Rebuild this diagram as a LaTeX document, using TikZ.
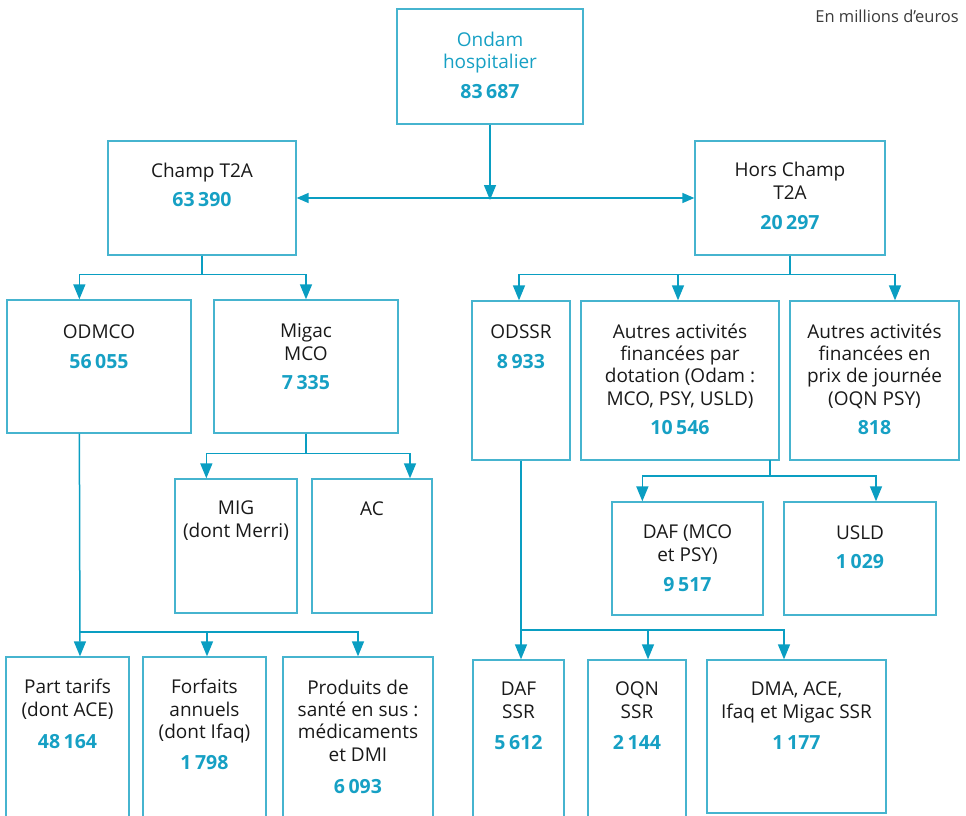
\documentclass[tikz,border=0pt]{standalone}
\usepackage{fontspec}
\setmainfont{Open Sans}
\usetikzlibrary{arrows.meta}
\definecolor{boxc}{RGB}{70,180,207}
\definecolor{arrc}{RGB}{10,158,194}
\definecolor{numc}{RGB}{22,160,196}
\definecolor{txtc}{RGB}{25,25,25}
\newcommand\gsp{\hspace{0.18em}}
\begin{document}
\begin{tikzpicture}[x=1pt,y=-1pt,
  box/.style={draw=boxc,line width=1.3pt,rectangle,inner sep=0pt},
  txt/.style={align=center,text=txtc,font=\fontsize{19}{22.3}\selectfont,inner sep=0pt,anchor=base},
  ctxt/.style={txt,text=numc},
  num/.style={align=center,text=numc,font=\fontsize{19.5}{22}\selectfont\bfseries,inner sep=0pt,anchor=base},
  arr/.style={draw=arrc,line width=1.5pt,-{Triangle[length=15pt,width=12pt]},color=arrc},
  ln/.style={draw=arrc,line width=1.5pt},
  arrd/.style={draw=arrc,line width=1.5pt,{Triangle[length=12pt,width=10pt]}-{Triangle[length=12pt,width=10pt]},color=arrc}]
\useasboundingbox (0,0) rectangle (966,816);
% boxes
\node[box,minimum width=186pt,minimum height=115pt] (ondam) at (490,66.5) {};
\node[box,minimum width=188pt,minimum height=114pt] (champ) at (202,198) {};
\node[box,minimum width=190pt,minimum height=114pt] (hors) at (790,198) {};
\node[box,minimum width=184pt,minimum height=133pt] (odmco) at (99,366.5) {};
\node[box,minimum width=184pt,minimum height=133pt] (migac) at (306,366.5) {};
\node[box,minimum width=98pt,minimum height=159pt] (odssr) at (521,380.5) {};
\node[box,minimum width=198pt,minimum height=159pt] (autdot) at (680,380.5) {};
\node[box,minimum width=169pt,minimum height=159pt] (autprix) at (874.5,380.5) {};
\node[box,minimum width=122pt,minimum height=134pt] (mig) at (236,546) {};
\node[box,minimum width=120pt,minimum height=134pt] (ac) at (372,546) {};
\node[box,minimum width=151pt,minimum height=113pt] (dafm) at (687.5,558.5) {};
\node[box,minimum width=152pt,minimum height=113pt] (usld) at (860,558.5) {};
\node[box,minimum width=123pt,minimum height=173pt] (part) at (67.5,743.5) {};
\node[box,minimum width=123pt,minimum height=173pt] (forf) at (204.5,743.5) {};
\node[box,minimum width=150pt,minimum height=173pt] (prod) at (358,743.5) {};
\node[box,minimum width=91pt,minimum height=170pt] (dafs) at (518.5,745) {};
\node[box,minimum width=98pt,minimum height=170pt] (oqn) at (637,745) {};
\node[box,minimum width=179pt,minimum height=153pt] (dma) at (796.5,736.5) {};
% texts (anchor = baseline of last line)
\node[ctxt] (t-ondam) at (490,69) {Ondam\\hospitalier};
\node[num] (n-ondam) at (490,98) {83\gsp687};
\node[txt] (t-champ) at (202,177) {Champ T2A};
\node[num] (n-champ) at (202,206) {63\gsp390};
\node[txt] (t-hors) at (790,199) {Hors Champ\\T2A};
\node[num] (n-hors) at (790,229) {20\gsp297};
\node[txt] (t-odmco) at (99,338) {ODMCO};
\node[num] (n-odmco) at (99,368) {56\gsp055};
\node[txt] (t-migac) at (306,360) {Migac\\MCO};
\node[num] (n-migac) at (306,389) {7\gsp335};
\node[txt] (t-odssr) at (521,338) {ODSSR};
\node[num] (n-odssr) at (521,368) {8\gsp933};
\node[txt] (t-autdot) at (680,405) {Autres activités\\financées par\\dotation (Odam :\\MCO, PSY, USLD)};
\node[num] (n-autdot) at (680,434) {10\gsp546};
\node[txt] (t-autprix) at (874.5,405) {Autres activités\\financées en\\prix de journée\\(OQN PSY)};
\node[num] (n-autprix) at (874.5,434) {818};
\node[txt] (t-mig) at (236,537) {MIG\\(dont Merri)};
\node[txt] (t-ac) at (372,515) {AC};
\node[txt] (t-dafm) at (687.5,561) {DAF (MCO\\et PSY)};
\node[num] (n-dafm) at (687.5,591) {9\gsp517};
\node[txt] (t-usld) at (860,539) {USLD};
\node[num] (n-usld) at (860,568) {1\gsp029};
\node[txt] (t-part) at (67.5,716) {Part tarifs\\(dont ACE)};
\node[num] (n-part) at (67.5,748) {48\gsp164};
\node[txt] (t-forf) at (204.5,738.5) {Forfaits\\annuels\\(dont Ifaq)};
\node[num] (n-forf) at (204.5,769) {1\gsp798};
\node[txt] (t-prod) at (358,761) {Produits de\\santé en sus :\\médicaments\\et DMI};
\node[num] (n-prod) at (358,793) {6\gsp093};
\node[txt] (t-dafs) at (518.5,718) {DAF\\SSR};
\node[num] (n-dafs) at (518.5,749) {5\gsp612};
\node[txt] (t-oqn) at (637,718) {OQN\\SSR};
\node[num] (n-oqn) at (637,749) {2\gsp144};
\node[txt] (t-dma) at (796.5,718) {DMA, ACE,\\Ifaq et Migac SSR};
\node[num] (n-dma) at (796.5,749) {1\gsp177};
\node[anchor=base east,inner sep=0pt,text=txtc!85!white,font=\fontsize{16.5}{18}\selectfont] (title) at (959,23) {En millions d’euros};
% connectors
\draw[arrd] (champ.east) -- (hors.west);
\draw[arr] (ondam.south) -- ([yshift=-2pt]ondam.south |- champ.east);
\draw[arr] (champ.south) -- ++(0,19) -| ([xshift=73pt]odmco.north west);
\draw[arr] (champ.south) -- ++(0,19) -| (migac.north);
\draw[arr] (hors.south) -- ++(0,19) -| ([xshift=-2pt]odssr.north);
\draw[arr] (hors.south) -- ++(0,19) -| ([xshift=-2pt]autdot.north);
\draw[arr] (hors.south) -- ++(0,19) -| ([xshift=20.5pt]autprix.north);
\draw[arr] (migac.south) -- ++(0,20) -| ([xshift=32pt]mig.north west);
\draw[arr] (migac.south) -- ++(0,20) -| ([xshift=38pt]ac.north);
\coordinate (sd) at (770,460);
\draw[arr] (sd) -- ++(0,16) -| ([xshift=31pt]dafm.north west);
\draw[arr] (sd) -- ++(0,16) -| ([xshift=16pt]usld.north);
\coordinate (jl) at (80,632);
\draw[arr] ([xshift=73pt]odmco.south west) -- ([xshift=12.5pt]part.north);
\draw[arr] (jl) -| ([xshift=2.5pt]forf.north);
\draw[arr] (jl) -| (prod.north);
\coordinate (jr) at (521,630);
\draw[arr] (odssr.south) -- ([xshift=2.5pt]dafs.north);
\draw[arr] (jr) -| ([xshift=11pt]oqn.north);
\draw[arr] (jr) -| ([xshift=-12.5pt]dma.north);
\end{tikzpicture}
\end{document}
